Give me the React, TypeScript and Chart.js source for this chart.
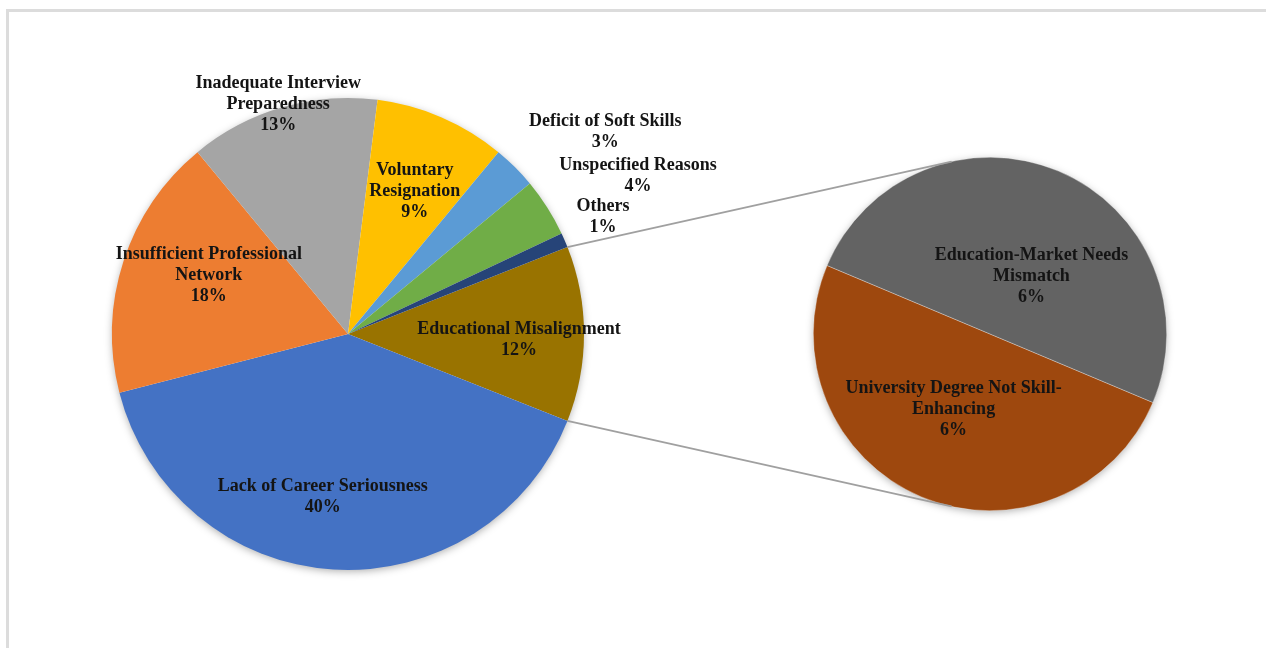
import React, { useEffect, useRef } from "react";
import { Chart, registerables } from "chart.js";

Chart.register(...registerables);

// ---------- data ----------
const mainCategories = [
  "Educational Misalignment",
  "Lack of Career Seriousness",
  "Insufficient Professional\nNetwork",
  "Inadequate Interview\nPreparedness",
  "Voluntary\nResignation",
  "Deficit of Soft Skills",
  "Unspecified Reasons",
  "Others",
];
const mainValues = [12, 40, 18, 13, 9, 3, 4, 1];
const mainColors = ["#997300", "#4472C4", "#ED7D31", "#A5A5A5", "#FFC000", "#5B9BD5", "#70AD47", "#264478"];

const subCategories = ["University Degree Not Skill-\nEnhancing", "Education-Market Needs\nMismatch"];
const subValues = [6, 6];
const subColors = ["#9E480E", "#636363"];

// label placement: [radial fraction, dx, dy]
const mainLabelPlacement: [number, number, number][] = [
  [0.72, 1, 6],
  [0.69, -15, 0],
  [0.62, 0, -13],
  [0.97, -6, -10],
  [0.66, 5, 0],
  [1.2, 57, -2],
  [1.2, 51, -6],
  [1.2, -5, -5],
];
const subLabelPlacement: [number, number, number][] = [
  [0.4, -9, 10],
  [0.4, 14, 8],
];

const W = 1266;
const H = 648;
const FONT = "bold 18px 'Liberation Serif', 'Times New Roman', serif";
const LINE_H = 21;
const TEXT_COLOR = "#141414";

function shadowPlugin(id: string) {
  return {
    id,
    beforeDatasetsDraw(chart: any) {
      const arc = chart.getDatasetMeta(0).data[0];
      if (!arc) return;
      const { x, y, outerRadius } = arc.getProps(["x", "y", "outerRadius"], true);
      const ctx = chart.ctx;
      ctx.save();
      ctx.shadowColor = "rgba(0,0,0,0.35)";
      ctx.shadowBlur = 9;
      ctx.shadowOffsetX = 0;
      ctx.shadowOffsetY = 2;
      ctx.fillStyle = "#ffffff";
      ctx.beginPath();
      ctx.arc(x, y, outerRadius - 1, 0, Math.PI * 2);
      ctx.fill();
      ctx.restore();
    },
  };
}

function labelPlugin(id: string, categories: string[], values: number[], placement: [number, number, number][]) {
  return {
    id,
    afterDatasetsDraw(chart: any) {
      const ctx = chart.ctx;
      const meta = chart.getDatasetMeta(0);
      ctx.save();
      ctx.font = FONT;
      ctx.fillStyle = TEXT_COLOR;
      ctx.textAlign = "center";
      ctx.textBaseline = "middle";
      meta.data.forEach((arc: any, i: number) => {
        const { x, y, startAngle, endAngle, outerRadius } = arc.getProps(
          ["x", "y", "startAngle", "endAngle", "outerRadius"],
          true
        );
        const mid = (startAngle + endAngle) / 2;
        const [f, dx, dy] = placement[i];
        const cx = x + Math.cos(mid) * outerRadius * f + dx;
        const cy = y + Math.sin(mid) * outerRadius * f + dy;
        const lines = [...categories[i].split("\n"), values[i] + "%"];
        const n = lines.length;
        lines.forEach((t, k) => ctx.fillText(t, cx, cy + (k - (n - 1) / 2) * LINE_H));
      });
      ctx.restore();
    },
  };
}

function tangentPoint(px: number, py: number, cx: number, cy: number, r: number, sign: number) {
  const d = Math.hypot(cx - px, cy - py);
  const base = Math.atan2(cy - py, cx - px);
  const a = Math.asin(Math.min(1, r / d));
  const len = Math.sqrt(Math.max(0, d * d - r * r));
  const ang = base + sign * a;
  return [px + Math.cos(ang) * len, py + Math.sin(ang) * len];
}

export default function App() {
  const mainRef = useRef<HTMLCanvasElement>(null);
  const subRef = useRef<HTMLCanvasElement>(null);

  useEffect(() => {
    if (!mainRef.current || !subRef.current) return;

    const mainChart = new Chart(mainRef.current, {
      type: "pie",
      data: {
        labels: mainCategories.map((c) => c.replace("\n", " ")),
        datasets: [
          {
            data: mainValues,
            backgroundColor: mainColors,
            borderWidth: 0,
            hoverOffset: 0,
          },
        ],
      },
      options: {
        responsive: false,
        animation: false,
        devicePixelRatio: 1,
        events: [],
        rotation: 68.4,
        layout: { padding: { left: 112, top: 98, right: 682, bottom: 78 } },
        plugins: { legend: { display: false }, tooltip: { enabled: false } },
      },
      plugins: [shadowPlugin("mainShadow"), labelPlugin("mainLabels", mainCategories, mainValues, mainLabelPlacement)],
    });

    const connectorPlugin = {
      id: "connectors",
      afterDraw(chart: any) {
        const src = mainChart.getDatasetMeta(0).data[0] as any;
        const dst = chart.getDatasetMeta(0).data[0];
        if (!src || !dst) return;
        const s = src.getProps(["x", "y", "startAngle", "endAngle", "outerRadius"], true);
        const d = dst.getProps(["x", "y", "outerRadius"], true);
        const ctx = chart.ctx;
        const p1 = [s.x + Math.cos(s.startAngle) * s.outerRadius, s.y + Math.sin(s.startAngle) * s.outerRadius];
        const p2 = [s.x + Math.cos(s.endAngle) * s.outerRadius, s.y + Math.sin(s.endAngle) * s.outerRadius];
        const t1 = tangentPoint(p1[0], p1[1], d.x, d.y, d.outerRadius, -1);
        const t2 = tangentPoint(p2[0], p2[1], d.x, d.y, d.outerRadius, 1);
        ctx.save();
        ctx.strokeStyle = "#A0A0A0";
        ctx.lineWidth = 1.8;
        ctx.beginPath();
        ctx.moveTo(p1[0], p1[1]);
        ctx.lineTo(t1[0], t1[1]);
        ctx.moveTo(p2[0], p2[1]);
        ctx.lineTo(t2[0], t2[1]);
        ctx.stroke();
        ctx.restore();
      },
    };

    const subChart = new Chart(subRef.current, {
      type: "pie",
      data: {
        labels: subCategories.map((c) => c.replace("\n", " ")),
        datasets: [
          {
            data: subValues,
            backgroundColor: subColors,
            borderWidth: 0.6,
            borderColor: "rgba(255,255,255,0.5)",
            hoverOffset: 0,
          },
        ],
      },
      options: {
        responsive: false,
        animation: false,
        devicePixelRatio: 1,
        events: [],
        rotation: 112.8,
        layout: { padding: { left: 813, top: 157, right: 99, bottom: 137 } },
        plugins: { legend: { display: false }, tooltip: { enabled: false } },
      },
      plugins: [
        shadowPlugin("subShadow"),
        labelPlugin("subLabels", subCategories, subValues, subLabelPlacement),
        connectorPlugin,
      ],
    });

    return () => {
      subChart.destroy();
      mainChart.destroy();
    };
  }, []);

  const canvasStyle: React.CSSProperties = { position: "absolute", left: 0, top: 0, width: W, height: H };

  return (
    <div style={{ position: "fixed", left: 0, top: 0, width: W, height: H, overflow: "hidden", background: "#ffffff" }}>
      <div
        style={{
          position: "absolute",
          left: 6,
          top: 9,
          width: W,
          height: H,
          borderTop: "3px solid #DCDCDC",
          borderLeft: "3px solid #DCDCDC",
          boxSizing: "border-box",
        }}
      />
      <canvas ref={mainRef} width={W} height={H} style={canvasStyle} />
      <canvas ref={subRef} width={W} height={H} style={canvasStyle} />
    </div>
  );
}
